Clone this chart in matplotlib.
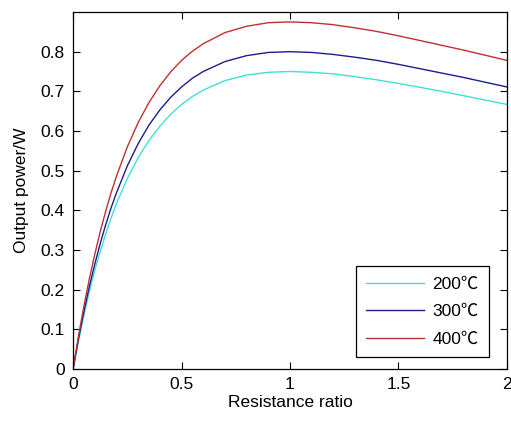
import matplotlib
matplotlib.use("Agg")
import matplotlib.pyplot as plt

plt.rcParams['font.family'] = ['Liberation Sans', 'Noto Sans CJK SC', 'DejaVu Sans']

ratio = [0, 0.025, 0.05, 0.075, 0.1, 0.125, 0.15, 0.175, 0.2, 0.25, 0.3, 0.35, 0.4,
         0.45, 0.5, 0.55, 0.6, 0.7, 0.8, 0.9, 1.0, 1.1, 1.2, 1.3, 1.4, 1.5, 1.6,
         1.7, 1.8, 1.9, 2.0]
p200 = [0, .071, .136, .195, .248, .296, .340, .380, .417, .480, .533, .576, .612,
        .642, .667, .687, .703, .727, .741, .748, .750, .748, .744, .737, .729, .720,
        .710, .700, .689, .678, .667]
p300 = [0, .076, .145, .208, .264, .316, .363, .406, .444, .512, .568, .615, .653,
        .685, .711, .733, .750, .775, .790, .798, .800, .798, .793, .786, .778, .768,
        .757, .746, .735, .723, .711]
p400 = [0, .083, .159, .227, .289, .346, .397, .444, .486, .560, .621, .672, .714,
        .749, .778, .801, .820, .848, .864, .873, .875, .873, .868, .860, .851, .840,
        .828, .816, .804, .791, .778]
labels = ['200\u2103', '300\u2103', '400\u2103']
colors = ['#3fe0d8', '#1c1c8c', '#c03030']

fs = 12.5
fig = plt.figure(figsize=(5.11, 4.21), dpi=100)
ax = fig.add_axes([0.143, 0.1235, 0.849, 0.848])
for y, lab, c in zip([p200, p300, p400], labels, colors):
    ax.plot(ratio, y, color=c, lw=1.0, label=lab)

ax.set_xlim(0, 2)
ax.set_ylim(0, 0.9)
ax.set_xticks([0, 0.5, 1, 1.5, 2])
ax.set_xticklabels(['0', '0.5', '1', '1.5', '2'])
ax.set_yticks([0, 0.1, 0.2, 0.3, 0.4, 0.5, 0.6, 0.7, 0.8])
ax.set_yticklabels(['0', '0.1', '0.2', '0.3', '0.4', '0.5', '0.6', '0.7', '0.8'])
ax.tick_params(direction='in', top=True, right=True, labelsize=fs, length=5,
               width=0.8, pad=6)
for s in ax.spines.values():
    s.set_linewidth(0.9)
ax.set_xlabel('Resistance ratio', fontsize=fs, labelpad=2)
ax.set_ylabel('Output power/W', fontsize=fs, labelpad=8)
leg = ax.legend(loc='lower right', fontsize=fs, fancybox=False, framealpha=1,
                edgecolor='black', bbox_to_anchor=(489 / 511, (421 - 357) / 421),
                bbox_transform=fig.transFigure, borderaxespad=0, borderpad=0.6,
                handlelength=3.3, labelspacing=0.7, handletextpad=0.5)
leg.get_frame().set_linewidth(0.9)
fig.savefig('out.png', dpi=100)
